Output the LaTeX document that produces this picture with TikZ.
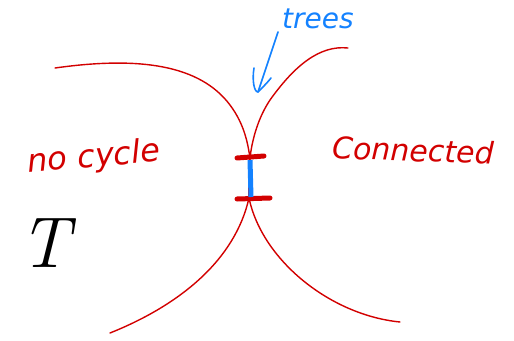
\documentclass[tikz,border=0pt]{standalone}
\usepackage{fontspec}
\newfontfamily\hand{DejaVu Sans}
\begin{document}
\begin{tikzpicture}[x=1pt,y=-1pt,
  redline/.style={draw={rgb,255:red,210;green,0;blue,0},line width=1.4pt,line cap=round},
  redmark/.style={draw={rgb,255:red,210;green,0;blue,0},line width=5pt,line cap=round},
  blueline/.style={draw={rgb,255:red,20;green,130;blue,255},line width=1.6pt,line cap=round,line join=round},
  redtext/.style={text={rgb,255:red,210;green,0;blue,0},font=\hand\itshape},
  bluetext/.style={text={rgb,255:red,20;green,130;blue,255},font=\hand\itshape}]
\useasboundingbox (0,0) rectangle (514,340);
% curves
\coordinate (a1) at (55,68);
\coordinate (a2) at (110,333);
\coordinate (b1) at (348,48);
\coordinate (b2) at (400,322);
\coordinate (c) at (250,158);
\coordinate (d) at (249,198);
\draw[redline] (a1) .. controls (140,56) and (200,65) .. (230,105)
  .. controls (245,125) and (248,145) .. (c)
  .. controls (250,175) and (248,190) .. (d)
  .. controls (235,260) and (180,305) .. (a2);
\draw[redline] (b1) .. controls (320,45) and (295,65) .. (270,100)
  .. controls (258,118) and (252,140) .. (c)
  .. controls (248,175) and (249,188) .. (d)
  .. controls (262,260) and (330,315) .. (b2);
% marks
\coordinate (m1l) at (237,158);
\coordinate (m1r) at (264,156);
\coordinate (m2l) at (237,199);
\coordinate (m2r) at (270,198);
\draw[redmark] (m1l) -- (m1r);
\draw[redmark] (m2l) -- (m2r);
\draw[blueline,line width=5pt,line cap=butt] (250,160) -- (251,197);
% labels
\node[redtext,font=\hand\itshape\fontsize{32}{32}\selectfont,rotate=5] (nc) at (94,158) {no cycle};
\node[redtext,font=\hand\itshape\fontsize{30}{30}\selectfont,rotate=-2] (cn) at (413,150) {Connected};
\node[bluetext,font=\hand\itshape\fontsize{28}{28}\selectfont] (tr) at (318,19) {trees};
\node[font=\fontsize{72}{72}\selectfont\itshape] (T) at (45,243) {T};
% arrow
\coordinate (ta) at (278,32);
\coordinate (th) at (258,92);
\draw[blueline] (ta) -- (th);
\draw[blueline] (254,68) .. controls (252,80) and (254,92) .. (th) .. controls (262,88) and (268,82) .. (271,78);
\end{tikzpicture}
\end{document}
